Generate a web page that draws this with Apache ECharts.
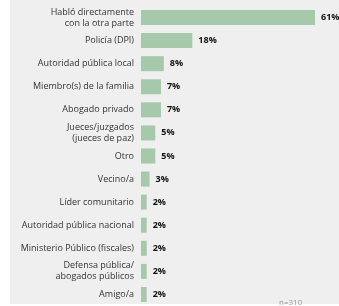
<!DOCTYPE html>
<html><head><meta charset="utf-8">
<script src="https://cdn.jsdelivr.net/npm/echarts@6/dist/echarts.min.js"></script>
<style>html,body{margin:0;padding:0;background:#fff;}#c{width:339px;height:306px;}</style>
</head><body><div id="c"></div>
<script>
const categories = [
  "Habló directamente\ncon la otra parte",
  "Policía (DPI)",
  "Autoridad pública local",
  "Miembro(s) de la familia",
  "Abogado privado",
  "Jueces/juzgados\n(jueces de paz)",
  "Otro",
  "Vecino/a",
  "Líder comunitario",
  "Autoridad pública nacional",
  "Ministerio Público (fiscales)",
  "Defensa pública/\nabogados públicos",
  "Amigo/a"
];
const values = [61, 18, 8, 7, 7, 5, 5, 3, 2, 2, 2, 2, 2];
const noteText = "n=310";

const chart = echarts.init(document.getElementById('c'), null, {renderer: 'canvas'});
chart.setOption({
  animation: false,
  backgroundColor: '#ffffff',
  graphic: [
    {type: 'rect', z: -10, silent: true, shape: {x: 10, y: 0, width: 329, height: 304}, style: {fill: '#efefef'}},
    {type: 'text', left: 279, top: 299, style: {text: noteText, fill: '#9a9a9a', font: '8px "Open Sans"'}}
  ],
  grid: {left: 141, right: 24, top: 6, bottom: -4, containLabel: false},
  xAxis: {type: 'value', min: 0, max: 61, show: false},
  yAxis: {
    type: 'category', data: categories, inverse: true,
    axisLine: {show: false}, axisTick: {show: false},
    axisLabel: {color: '#333', fontFamily: 'Open Sans', fontSize: 9, lineHeight: 11, margin: 7}
  },
  series: [{
    type: 'bar', data: values, barWidth: 15,
    itemStyle: {color: '#a7c9ab'},
    label: {show: true, position: 'right', distance: 6, formatter: '{c}%', color: '#111', fontWeight: 'bold', fontFamily: 'Open Sans', fontSize: 9}
  }]
});
</script></body></html>
